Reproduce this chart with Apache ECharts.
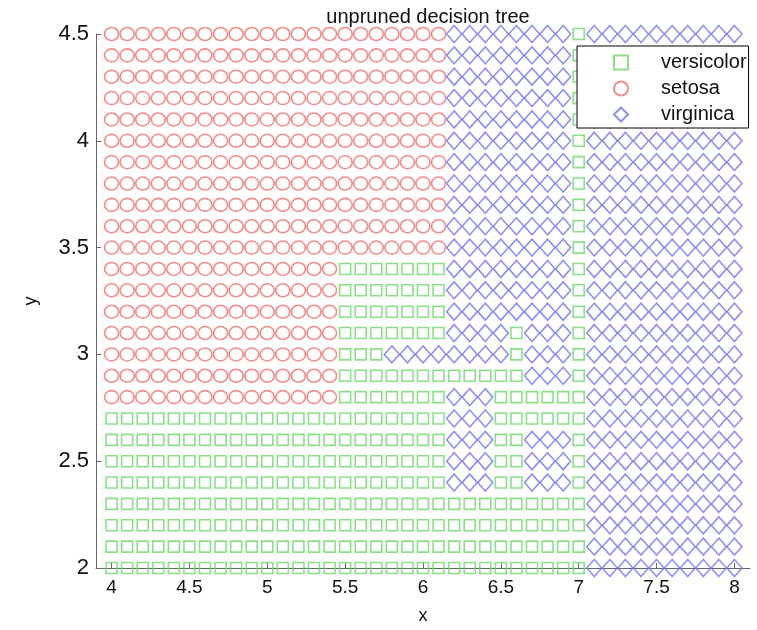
<!DOCTYPE html>
<html>
<head>
<meta charset="utf-8">
<script src="https://cdn.jsdelivr.net/npm/echarts@6/dist/echarts.min.js"></script>
<style>
html,body{margin:0;padding:0;background:#fff;}
#chart{width:757px;height:630px;}
</style>
</head>
<body>
<div id="chart"></div>
<script>
// Grid sample positions (x columns, y rows from top to bottom)
const xValues = [4.0,4.1,4.2,4.3,4.4,4.5,4.6,4.7,4.8,4.9,5.0,5.1,5.2,5.3,5.4,5.5,5.6,5.7,5.8,5.9,6.0,6.1,6.2,6.3,6.4,6.5,6.6,6.7,6.8,6.9,7.0,7.1,7.2,7.3,7.4,7.5,7.6,7.7,7.8,7.9,8.0];
const yValues = [4.5,4.4,4.3,4.2,4.1,4.0,3.9,3.8,3.7,3.6,3.5,3.4,3.3,3.2,3.1,3.0,2.9,2.8,2.7,2.6,2.5,2.4,2.3,2.2,2.1,2.0];
// Predicted class per row, run-length coded left to right: s=versicolor, o=setosa, d=virginica
const rowClasses = [
  "o22 d8 s1 d10",
  "o22 d8 s1 d10",
  "o22 d8 s1 d10",
  "o22 d8 s1 d10",
  "o22 d8 s1 d10",
  "o22 d8 s1 d10",
  "o22 d8 s1 d10",
  "o22 d8 s1 d10",
  "o22 d8 s1 d10",
  "o22 d8 s1 d10",
  "o22 d8 s1 d10",
  "o15 s7 d8 s1 d10",
  "o15 s7 d8 s1 d10",
  "o15 s7 d8 s1 d10",
  "o15 s7 d4 s1 d3 s1 d10",
  "o15 s3 d8 s1 d3 s1 d10",
  "o15 s12 d3 s1 d10",
  "o15 s7 d3 s6 d10",
  "s22 d3 s6 d10",
  "s22 d3 s2 d3 s1 d10",
  "s22 d3 s2 d3 s1 d10",
  "s22 d3 s2 d3 s1 d10",
  "s31 d10",
  "s31 d10",
  "s31 d10",
  "s31 d10"
];
const classNames = ["versicolor", "setosa", "virginica"];
const classCodes = ["s", "o", "d"];
const xTickValues = [4, 4.5, 5, 5.5, 6, 6.5, 7, 7.5, 8];
const yTickValues = [2, 2.5, 3, 3.5, 4, 4.5];
const titleText = "unpruned decision tree";

const dataByCode = { s: [], o: [], d: [] };
rowClasses.forEach(function (row, r) {
  let col = 0;
  row.split(" ").forEach(function (seg) {
    const code = seg[0];
    const n = parseInt(seg.slice(1), 10);
    for (let k = 0; k < n; k++) {
      dataByCode[code].push([xValues[col], yValues[r]]);
      col++;
    }
  });
});

const styles = {
  s: { symbol: "rect", size: [11, 11], color: "#6cd86c" },
  o: { symbol: "circle", size: [14, 13], color: "#ef7070" },
  d: { symbol: "diamond", size: [15, 17], color: "#7373ee" }
};

const chart = echarts.init(document.getElementById("chart"), null, { renderer: "canvas" });
const axisFont = "Liberation Sans";
chart.setOption({
  animation: false,
  backgroundColor: "#ffffff",
  title: {
    text: titleText,
    left: 423, top: 2, textAlign: "center",
    textStyle: { fontFamily: axisFont, fontSize: 20, fontWeight: "normal", color: "#111" }
  },
  grid: { left: 96, right: 7, top: 34, bottom: 57, containLabel: false },
  xAxis: {
    type: "value", min: 3.9, max: 8.1,
    name: "x", nameLocation: "middle", nameGap: 39,
    nameTextStyle: { fontFamily: axisFont, fontSize: 18, color: "#111" },
    axisLine: { show: true, onZero: false, lineStyle: { color: "#666", width: 1 } },
    axisTick: { show: true, inside: true, length: 5, customValues: xTickValues, lineStyle: { color: "#666" } },
    axisLabel: { customValues: xTickValues, margin: 10, fontFamily: axisFont, fontSize: 19, color: "#111" },
    splitLine: { show: false }
  },
  yAxis: {
    type: "value", min: 2, max: 4.5, interval: 0.5,
    name: "y", nameLocation: "middle", nameGap: 56, nameRotate: 90,
    nameTextStyle: { fontFamily: axisFont, fontSize: 18, color: "#111" },
    axisLine: { show: true, onZero: false, lineStyle: { color: "#666", width: 1 } },
    axisTick: { show: true, inside: true, length: 5, customValues: yTickValues, lineStyle: { color: "#666" } },
    axisLabel: { customValues: yTickValues, margin: 7, fontFamily: axisFont, fontSize: 22, color: "#111" },
    splitLine: { show: false }
  },
  legend: {
    orient: "vertical",
    left: 577, top: 46,
    data: classNames,
    itemWidth: 14, itemHeight: 14, itemGap: 5,
    padding: [6, 2, 3, 36],
    backgroundColor: "#ffffff",
    borderColor: "#000000", borderWidth: 1,
    textStyle: { fontFamily: axisFont, fontSize: 20, lineHeight: 21, color: "#111", padding: [0, 0, 0, 28] },
    z: 10
  },
  series: classCodes.map(function (code, i) {
    return {
      name: classNames[i],
      type: "scatter",
      symbol: styles[code].symbol,
      symbolSize: styles[code].size,
      clip: false,
      data: dataByCode[code],
      itemStyle: { color: "rgba(0,0,0,0)", borderColor: styles[code].color, borderWidth: 1.6 },
      emphasis: { disabled: true }
    };
  })
});
</script>
</body>
</html>
